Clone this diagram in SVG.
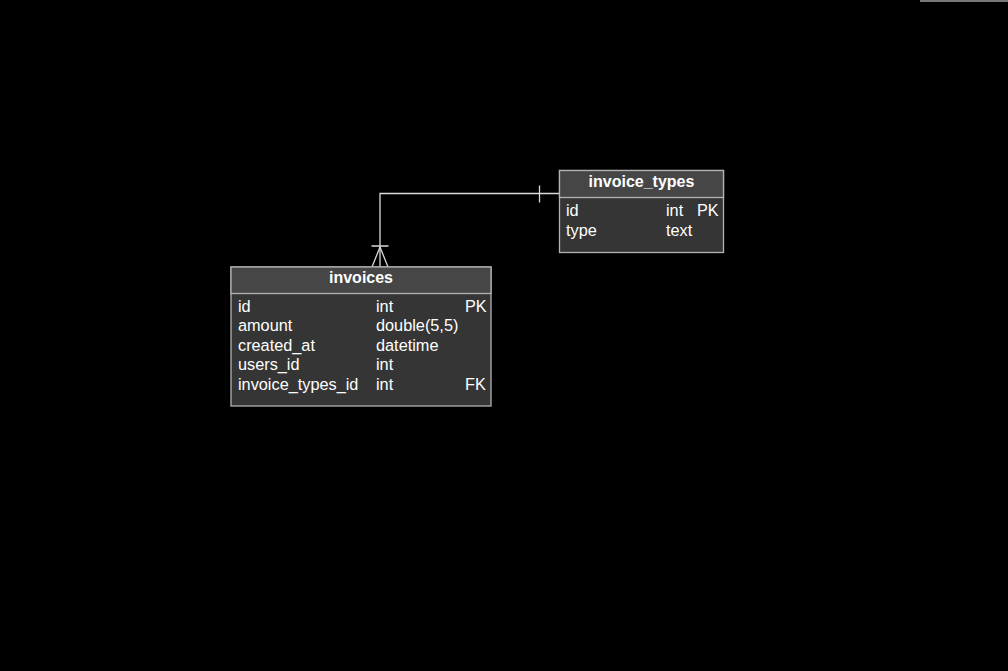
<svg xmlns="http://www.w3.org/2000/svg" width="1008" height="671" viewBox="0 0 1008 671">
<style>
.hdr{fill:#464646;stroke:#b3b3b3;stroke-width:1.3}
.body{fill:#353535;stroke:#b3b3b3;stroke-width:1.3}
.t{font-family:"Liberation Sans",Arial,sans-serif;font-size:16.3px;fill:#ffffff}
.h{font-family:"Liberation Sans",Arial,sans-serif;font-size:16px;font-weight:bold;fill:#ffffff;text-anchor:middle}
.c{fill:none;stroke:#d9d9d9;stroke-width:1.3}
</style>
<rect width="1008" height="671" fill="#000000"/>
<rect x="920" y="0" width="88" height="2" fill="#777777"/>
<g id="connectors">
<path class="c" d="M559 193.5 H380 V267"/>
<path class="c" d="M539.5 185.5 V202.5"/>
<path class="c" d="M371.5 246 H388.5 M380 247 L372 267 M380 247 L388 267"/>
</g>
<g id="invoices">
<rect class="body" x="231" y="267" width="260" height="139"/>
<rect class="hdr" x="231" y="267" width="260" height="26.5"/>
<text class="h" x="361" y="283">invoices</text>
<text class="t" x="238" y="311.5">id</text>
<text class="t" x="376" y="311.5">int</text>
<text class="t" x="465" y="311.5">PK</text>
<text class="t" x="238" y="331">amount</text>
<text class="t" x="376" y="331">double(5,5)</text>
<text class="t" x="238" y="350.5">created_at</text>
<text class="t" x="376" y="350.5">datetime</text>
<text class="t" x="238" y="370">users_id</text>
<text class="t" x="376" y="370">int</text>
<text class="t" x="238" y="390">invoice_types_id</text>
<text class="t" x="376" y="390">int</text>
<text class="t" x="465" y="390">FK</text>
</g>
<g id="invoice_types">
<rect class="body" x="559.5" y="170.5" width="164" height="82"/>
<rect class="hdr" x="559.5" y="170.5" width="164" height="27"/>
<text class="h" x="641.5" y="187">invoice_types</text>
<text class="t" x="566" y="216">id</text>
<text class="t" x="666" y="216">int</text>
<text class="t" x="697" y="216">PK</text>
<text class="t" x="566" y="236">type</text>
<text class="t" x="666" y="236">text</text>
</g>
</svg>
